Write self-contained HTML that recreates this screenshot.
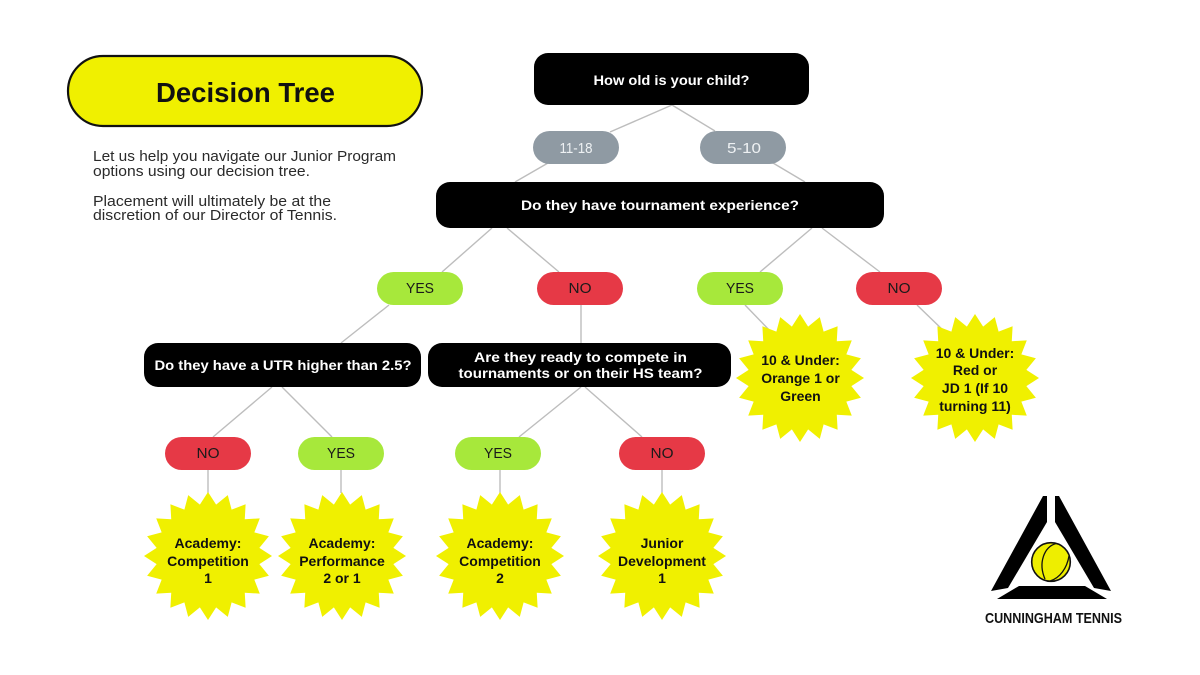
<!DOCTYPE html>
<html>
<head>
<meta charset="utf-8">
<style>
  html, body { margin: 0; padding: 0; background: #ffffff; }
  body { width: 1200px; height: 675px; overflow: hidden; }
  svg { display: block; }
  text { font-family: "Liberation Sans", sans-serif; }
</style>
</head>
<body>
<svg width="1200" height="675" viewBox="0 0 1200 675" xmlns="http://www.w3.org/2000/svg">
  <defs>
    <polygon id="star" points="0,-64 8.13,-51.36 19.78,-60.87 23.61,-46.33 37.62,-51.78 36.77,-36.77 51.78,-37.62 46.33,-23.61 60.87,-19.78 51.36,-8.13 64,0 51.36,8.13 60.87,19.78 46.33,23.61 51.78,37.62 36.77,36.77 37.62,51.78 23.61,46.33 19.78,60.87 8.13,51.36 0,64 -8.13,51.36 -19.78,60.87 -23.61,46.33 -37.62,51.78 -36.77,36.77 -51.78,37.62 -46.33,23.61 -60.87,19.78 -51.36,8.13 -64,0 -51.36,-8.13 -60.87,-19.78 -46.33,-23.61 -51.78,-37.62 -36.77,-36.77 -37.62,-51.78 -23.61,-46.33 -19.78,-60.87 -8.13,-51.36" fill="#F0F000"/>
  </defs>

  <!-- Title pill -->
  <rect x="68" y="56" width="354" height="70" rx="35" ry="35" fill="#F0F000" stroke="#111" stroke-width="2.2"/>
  <text x="245.5" y="102" text-anchor="middle" font-size="28" font-weight="bold" fill="#111" textLength="179" lengthAdjust="spacingAndGlyphs">Decision Tree</text>

  <!-- Paragraph -->
  <g font-size="14.5" fill="#2a2a2a">
    <text x="93" y="161" textLength="303" lengthAdjust="spacingAndGlyphs">Let us help you navigate our Junior Program</text>
    <text x="93" y="176" textLength="217" lengthAdjust="spacingAndGlyphs">options using our decision tree.</text>
    <text x="93" y="206" textLength="238" lengthAdjust="spacingAndGlyphs">Placement will ultimately be at the</text>
    <text x="93" y="220" textLength="244" lengthAdjust="spacingAndGlyphs">discretion of our Director of Tennis.</text>
  </g>

  <!-- Connectors -->
  <g stroke="#bdbdbd" stroke-width="1.4" fill="none">
    <line x1="672" y1="105" x2="610" y2="132"/>
    <line x1="672" y1="105" x2="715" y2="131"/>
    <line x1="548" y1="163" x2="515" y2="182"/>
    <line x1="773" y1="163" x2="805" y2="182"/>
    <line x1="492" y1="228" x2="442" y2="272"/>
    <line x1="507" y1="228" x2="559" y2="272"/>
    <line x1="812" y1="228" x2="760" y2="272"/>
    <line x1="822" y1="228" x2="880" y2="272"/>
    <line x1="389" y1="305" x2="341" y2="343"/>
    <line x1="581" y1="305" x2="581" y2="343"/>
    <line x1="272" y1="387" x2="213" y2="437"/>
    <line x1="282" y1="387" x2="332" y2="437"/>
    <line x1="581" y1="387" x2="519" y2="437"/>
    <line x1="585" y1="387" x2="642" y2="437"/>
    <line x1="745" y1="305" x2="773" y2="334"/>
    <line x1="917" y1="305" x2="947" y2="334"/>
    <line x1="208" y1="470" x2="208" y2="493"/>
    <line x1="341" y1="470" x2="341" y2="493"/>
    <line x1="500" y1="470" x2="500" y2="493"/>
    <line x1="662" y1="470" x2="662" y2="493"/>
  </g>

  <!-- Black question boxes -->
  <rect x="534" y="53" width="275" height="52" rx="14" fill="#000"/>
  <text x="671.5" y="85" text-anchor="middle" font-size="14" font-weight="bold" fill="#fff" textLength="156" lengthAdjust="spacingAndGlyphs">How old is your child?</text>

  <rect x="436" y="182" width="448" height="46" rx="14" fill="#000"/>
  <text x="660" y="210" text-anchor="middle" font-size="14" font-weight="bold" fill="#fff" textLength="278" lengthAdjust="spacingAndGlyphs">Do they have tournament experience?</text>

  <rect x="144" y="343" width="277" height="44" rx="14" fill="#000"/>
  <text x="283" y="370" text-anchor="middle" font-size="14" font-weight="bold" fill="#fff" textLength="257" lengthAdjust="spacingAndGlyphs">Do they have a UTR higher than 2.5?</text>

  <rect x="428" y="343" width="303" height="44" rx="14" fill="#000"/>
  <text x="580.5" y="362" text-anchor="middle" font-size="14" font-weight="bold" fill="#fff" textLength="213" lengthAdjust="spacingAndGlyphs">Are they ready to compete in</text>
  <text x="580.5" y="378" text-anchor="middle" font-size="14" font-weight="bold" fill="#fff" textLength="244" lengthAdjust="spacingAndGlyphs">tournaments or on their HS team?</text>

  <!-- Age pills -->
  <rect x="533" y="131" width="86" height="33" rx="16.5" fill="#8F9AA3"/>
  <text x="576" y="153" text-anchor="middle" font-size="15" fill="#eef1f3" textLength="33" lengthAdjust="spacingAndGlyphs">11-18</text>
  <rect x="700" y="131" width="86" height="33" rx="16.5" fill="#8F9AA3"/>
  <text x="744" y="153" text-anchor="middle" font-size="15" fill="#eef1f3" textLength="34" lengthAdjust="spacingAndGlyphs">5-10</text>

  <!-- YES / NO pills row 1 -->
  <g font-size="15" fill="#1a1a1a" text-anchor="middle">
    <rect x="377" y="272" width="86" height="33" rx="16.5" fill="#A7E83B"/>
    <text x="420" y="293" textLength="28" lengthAdjust="spacingAndGlyphs">YES</text>
    <rect x="537" y="272" width="86" height="33" rx="16.5" fill="#E63946"/>
    <text x="580" y="293" textLength="23" lengthAdjust="spacingAndGlyphs">NO</text>
    <rect x="697" y="272" width="86" height="33" rx="16.5" fill="#A7E83B"/>
    <text x="740" y="293" textLength="28" lengthAdjust="spacingAndGlyphs">YES</text>
    <rect x="856" y="272" width="86" height="33" rx="16.5" fill="#E63946"/>
    <text x="899" y="293" textLength="23" lengthAdjust="spacingAndGlyphs">NO</text>

    <!-- row 2 -->
    <rect x="165" y="437" width="86" height="33" rx="16.5" fill="#E63946"/>
    <text x="208" y="458" textLength="23" lengthAdjust="spacingAndGlyphs">NO</text>
    <rect x="298" y="437" width="86" height="33" rx="16.5" fill="#A7E83B"/>
    <text x="341" y="458" textLength="28" lengthAdjust="spacingAndGlyphs">YES</text>
    <rect x="455" y="437" width="86" height="33" rx="16.5" fill="#A7E83B"/>
    <text x="498" y="458" textLength="28" lengthAdjust="spacingAndGlyphs">YES</text>
    <rect x="619" y="437" width="86" height="33" rx="16.5" fill="#E63946"/>
    <text x="662" y="458" textLength="23" lengthAdjust="spacingAndGlyphs">NO</text>
  </g>

  <!-- Stars -->
  <use href="#star" x="208" y="556"/>
  <use href="#star" x="342" y="556"/>
  <use href="#star" x="500" y="556"/>
  <use href="#star" x="662" y="556"/>
  <use href="#star" x="800" y="378"/>
  <use href="#star" x="975" y="378"/>

  <g font-size="14" font-weight="bold" fill="#111" text-anchor="middle">
    <text x="208" y="548">Academy:</text>
    <text x="208" y="566">Competition</text>
    <text x="208" y="583">1</text>

    <text x="342" y="548">Academy:</text>
    <text x="342" y="566">Performance</text>
    <text x="342" y="583">2 or 1</text>

    <text x="500" y="548">Academy:</text>
    <text x="500" y="566">Competition</text>
    <text x="500" y="583">2</text>

    <text x="662" y="548">Junior</text>
    <text x="662" y="566">Development</text>
    <text x="662" y="583">1</text>

    <text x="800.5" y="365">10 &amp; Under:</text>
    <text x="800.5" y="383">Orange 1 or</text>
    <text x="800.5" y="401">Green</text>

    <text x="975" y="358">10 &amp; Under:</text>
    <text x="975" y="375">Red or</text>
    <text x="975" y="393">JD 1 (If 10</text>
    <text x="975" y="411">turning 11)</text>
  </g>

  <!-- Logo -->
  <g>
    <polygon points="1043,496 1047,496 1047,522 1008,588 991,591" fill="#000"/>
    <polygon points="1059,496 1055,496 1055,522 1094,588 1111,591" fill="#000"/>
    <polygon points="1019,586 1085,586 1107,599 997,599" fill="#000"/>
    <circle cx="1051" cy="562" r="19.3" fill="#EEEE00" stroke="#111" stroke-width="1.6"/>
    <path d="M1056,543.5 C1044,547 1038,563 1045,579" fill="none" stroke="#111" stroke-width="1.3"/>
    <path d="M1069,556 C1067,568 1060,578 1050,581" fill="none" stroke="#111" stroke-width="1.3"/>
    <text x="985" y="623" font-family="Liberation Sans Narrow, Liberation Sans, sans-serif" font-size="15" font-weight="bold" fill="#111" textLength="137" lengthAdjust="spacingAndGlyphs">CUNNINGHAM TENNIS</text>
  </g>
</svg>
</body>
</html>
